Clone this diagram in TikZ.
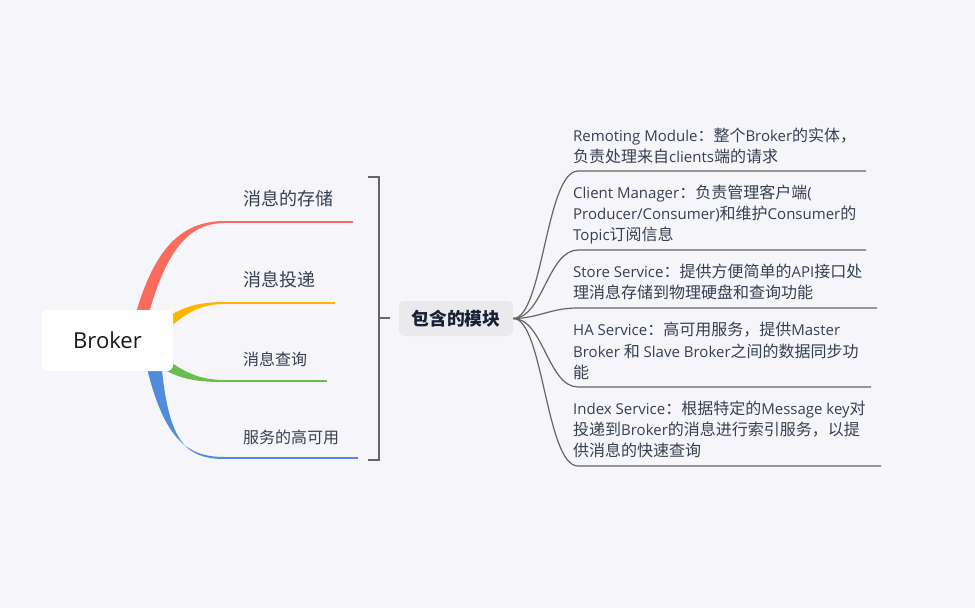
\documentclass[tikz,border=0pt]{standalone}
\usepackage{fontspec}
\setmainfont{Noto Sans CJK SC}
\newfontfamily\lat{Open Sans}[Scale=0.9375]
\definecolor{bg}{RGB}{245,245,250}
\definecolor{txt}{RGB}{55,64,80}
\definecolor{modtxt}{RGB}{22,32,52}
\definecolor{modfill}{RGB}{234,234,236}
\definecolor{gline}{RGB}{102,102,102}
\definecolor{cred}{RGB}{250,108,92}
\definecolor{corange}{RGB}{255,180,0}
\definecolor{cgreen}{RGB}{106,190,78}
\definecolor{cblue}{RGB}{80,140,218}
\begin{document}
\begin{tikzpicture}[x=1pt,y=-1pt,
  lbl/.style={anchor=base west, inner sep=0pt, text=txt},
  blk/.style={anchor=base west, inner sep=0pt, text=txt, font=\fontsize{16}{16}\selectfont},
  gconn/.style={draw=gline, line width=1.2pt},
  hline/.style={line width=2pt}]
\fill[bg] (0,0) rectangle (975,608);
\useasboundingbox (0,0) rectangle (975,608);

% coloured branches (drawn under the Broker box)
\fill[cred] (134,320) .. controls (153,250) and (180,221) .. (225,221)
  -- (225,223) .. controls (186,223) and (165,254) .. (147,320) -- cycle;
\fill[corange] (160,322) .. controls (182,306) and (200,302) .. (225,302)
  -- (225,304) .. controls (204,304) and (188,310) .. (166,331) -- cycle;
\fill[cgreen] (162,356) .. controls (185,373) and (200,380) .. (225,380)
  -- (225,382) .. controls (198,382) and (180,380) .. (158,366) -- cycle;
\fill[cblue] (145,360) .. controls (164,444) and (190,457) .. (225,457)
  -- (225,459) .. controls (184,459) and (168,440) .. (161,360) -- cycle;

\coordinate (r1a) at (224,222); \coordinate (r1b) at (353,222);
\coordinate (r2a) at (224,303); \coordinate (r2b) at (335,303);
\coordinate (r3a) at (224,381); \coordinate (r3b) at (327,381);
\coordinate (r4a) at (224,458); \coordinate (r4b) at (358,458);
\draw[hline, cred] (r1a) -- (r1b);
\draw[hline, corange] (r2a) -- (r2b);
\draw[hline, cgreen] (r3a) -- (r3b);
\draw[hline, cblue] (r4a) -- (r4b);

\node[fill=white, rounded corners=6pt, minimum width=131pt, minimum height=61pt, inner sep=0pt, text=black!90]
  (broker) at (107.5,340.5) {\lat\fontsize{23.5}{23.5}\selectfont Broker};

\node[lbl, font=\fontsize{18}{18}\selectfont] (l1) at (243,205) {消息的存储};
\node[lbl, font=\fontsize{18}{18}\selectfont] (l2) at (243,286) {消息投递};
\node[lbl, font=\fontsize{16}{16}\selectfont] (l3) at (243,365) {消息查询};
\node[lbl, font=\fontsize{16}{16}\selectfont] (l4) at (243,443) {服务的高可用};

% bracket
\coordinate (bt) at (368,177); \coordinate (bb) at (368,460);
\coordinate (bm) at (379,318); \coordinate (bmt) at (390,318);
\draw[gconn, line width=2pt] (bt) -- (379,177) -- (379,460) -- (bb);
\draw[gconn, line width=2pt] (bm) -- (bmt);

\node[fill=modfill, rounded corners=5pt, minimum width=114pt, minimum height=35pt, inner sep=0pt,
  text=modtxt, font=\fontsize{17.8}{17.8}\selectfont\bfseries] (mod) at (456,318.5) {包含的模块};

% right connectors
\coordinate (m1a) at (578,171); \coordinate (m1b) at (866,171);
\coordinate (m2a) at (578,250); \coordinate (m2b) at (866,250);
\coordinate (m3a) at (578,308); \coordinate (m3b) at (877,308);
\coordinate (m4a) at (578,387); \coordinate (m4b) at (871,387);
\coordinate (m5a) at (578,466); \coordinate (m5b) at (881,466);
\draw[gconn] (mod.east) .. controls (543,318) and (546,171) .. (m1a) -- (m1b);
\draw[gconn] (mod.east) .. controls (543,318) and (548,250) .. (m2a) -- (m2b);
\draw[gconn] (mod.east) .. controls (540,318) and (550,308) .. (m3a) -- (m3b);
\draw[gconn] (mod.east) .. controls (543,318) and (548,387) .. (m4a) -- (m4b);
\draw[gconn] (mod.east) .. controls (543,318) and (546,466) .. (m5a) -- (m5b);

\node[blk] (t1a) at (573,141) {{\lat Remoting Module}：整个{\lat Broker}的实体，};
\node[blk] (t1b) at (573,162) {负责处理来自{\lat clients}端的请求};
\node[blk] (t2a) at (573,198) {{\lat Client Manager}：负责管理客户端{\lat (}};
\node[blk] (t2b) at (573,219) {{\lat Producer/Consumer)}和维护{\lat Consumer}的};
\node[blk] (t2c) at (573,240) {{\lat Topic}订阅信息};
\node[blk] (t3a) at (573,277) {{\lat Store Service}：提供方便简单的{\lat API}接口处};
\node[blk] (t3b) at (573,298) {理消息存储到物理硬盘和查询功能};
\node[blk] (t4a) at (573,335) {{\lat HA Service}：高可用服务，提供{\lat Master}};
\node[blk] (t4b) at (573,357) {{\lat Broker }和{\lat{} Slave Broker}之间的数据同步功};
\node[blk] (t4c) at (573,378) {能};
\node[blk] (t5a) at (573,414) {{\lat Index Service}：根据特定的{\lat Message key}对};
\node[blk] (t5b) at (573,435) {投递到{\lat Broker}的消息进行索引服务，以提};
\node[blk] (t5c) at (573,456) {供消息的快速查询};
\end{tikzpicture}
\end{document}
